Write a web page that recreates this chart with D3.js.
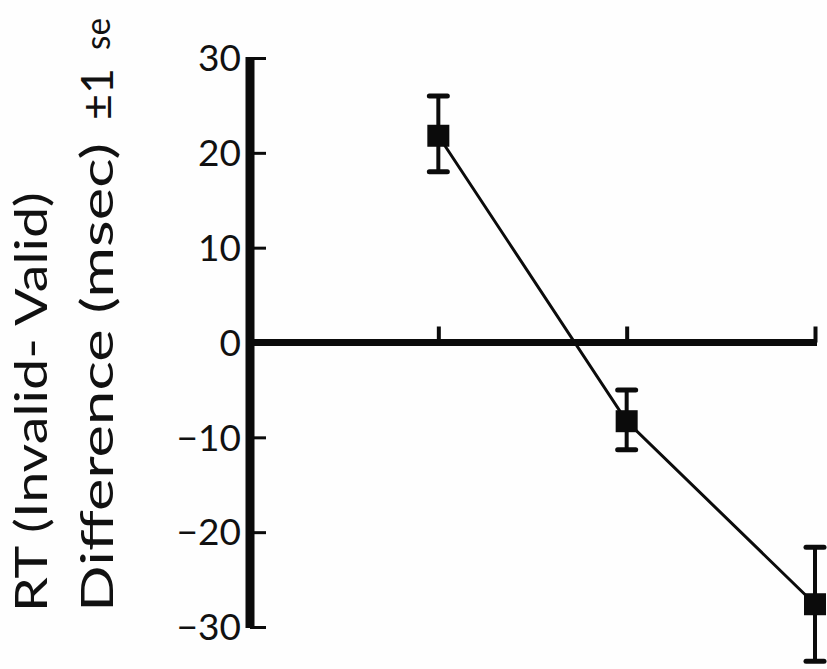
<!DOCTYPE html>
<html>
<head>
<meta charset="utf-8">
<script src="https://cdn.jsdelivr.net/npm/d3@7"></script>
<style>
  html, body { margin: 0; padding: 0; background: #fff; }
  svg { display: block; }
  text { font-family: "Lato", "DejaVu Sans", sans-serif; fill: #111; }
</style>
</head>
<body>
<div id="chart"></div>
<script>
// Conditions along the x axis (unlabelled positions 1..3)
const conditions = [1, 2, 3];
// Mean RT difference (Invalid - Valid), msec
const meanDiff = [21.8, -8.3, -27.6];
// Upper and lower ends of the ±1 se bars
const seUpper = [26.0, -5.0, -21.6];
const seLower = [18.0, -11.3, -33.6];
// Y axis tick values
const yTicks = [30, 20, 10, 0, -10, -20, -30];

const width = 827, height = 669;
const svg = d3.select("#chart").append("svg")
  .attr("width", width).attr("height", height);

svg.append("rect").attr("width", width).attr("height", height).attr("fill", "#fefefe");

const y = d3.scaleLinear().domain([-30, 30]).range([627, 58]);
const x = d3.scaleLinear().domain([0, 3]).range([250, 815]);
const ink = "#0b0b0b";

// Y axis: heavy spine, short ticks pointing right
const yAxis = d3.axisRight(y).tickValues(yTicks).tickSize(16).tickFormat("");
const gy = svg.append("g").attr("transform", `translate(${x(0)},0)`).call(yAxis);
gy.select(".domain").remove();
gy.selectAll(".tick line").attr("stroke", ink).attr("stroke-width", 3);
gy.append("line")
  .attr("x1", 0).attr("x2", 0)
  .attr("y1", y(30) - 1).attr("y2", y(-30) + 1)
  .attr("stroke", ink).attr("stroke-width", 9);

// Tick labels
svg.append("g").selectAll("text").data(yTicks).join("text")
  .attr("x", 241)
  .attr("y", d => y(d))
  .attr("dy", "0.36em")
  .attr("text-anchor", "end")
  .attr("font-size", 37)
  .text(d => d < 0 ? "\u2212" + Math.abs(d) : d);

// Zero line with small upward ticks at each condition
const xAxis = d3.axisTop(x).tickValues(conditions).tickSize(16).tickFormat("");
const gx = svg.append("g").attr("transform", `translate(0,${y(0)})`).call(xAxis);
gx.select(".domain").remove();
gx.selectAll(".tick line").attr("stroke", ink).attr("stroke-width", 4);
gx.append("line")
  .attr("x1", x(0)).attr("x2", x(3) + 2)
  .attr("y1", 0).attr("y2", 0)
  .attr("stroke", ink).attr("stroke-width", 7);

const pts = conditions.map((c, i) => ({ c, m: meanDiff[i], hi: seUpper[i], lo: seLower[i] }));

// Connecting line
svg.append("path")
  .datum(pts)
  .attr("fill", "none")
  .attr("stroke", ink)
  .attr("stroke-width", 3)
  .attr("d", d3.line().x(d => x(d.c)).y(d => y(d.m)));

// Error bars
const eb = svg.append("g").selectAll("g").data(pts).join("g");
eb.append("line")
  .attr("x1", d => x(d.c)).attr("x2", d => x(d.c))
  .attr("y1", d => y(d.hi)).attr("y2", d => y(d.lo))
  .attr("stroke", ink).attr("stroke-width", 4);
eb.append("line")
  .attr("x1", d => x(d.c) - 9).attr("x2", d => x(d.c) + 9)
  .attr("y1", d => y(d.hi)).attr("y2", d => y(d.hi))
  .attr("stroke", ink).attr("stroke-width", 5).attr("stroke-linecap", "round");
eb.append("line")
  .attr("x1", d => x(d.c) - 9).attr("x2", d => x(d.c) + 9)
  .attr("y1", d => y(d.lo)).attr("y2", d => y(d.lo))
  .attr("stroke", ink).attr("stroke-width", 5).attr("stroke-linecap", "round");

// Square markers
eb.append("rect")
  .attr("x", d => x(d.c) - 11).attr("y", d => y(d.m) - 11)
  .attr("width", 22).attr("height", 22)
  .attr("fill", ink);

// Y axis title, two rotated lines; pieces stretched to the wide lettering
const titleParts = [
  { bx: 47,  start: 0,   len: 420, size: 44, txt: "RT (Invalid- Valid)" },
  { bx: 113, start: 0,   len: 469, size: 44, txt: "Difference (msec)" },
  { bx: 113, start: 492, len: 52,  size: 44, txt: "\u00b11" },
  { bx: 110, start: 562, len: 32,  size: 34, txt: "se" }
];
svg.append("g").selectAll("text").data(titleParts).join("text")
  .attr("transform", d => `translate(${d.bx},612) rotate(-90)`)
  .attr("x", d => d.start)
  .attr("text-anchor", "start")
  .attr("font-size", d => d.size)
  .attr("textLength", d => d.len)
  .attr("lengthAdjust", "spacingAndGlyphs")
  .text(d => d.txt);
</script>
</body>
</html>
